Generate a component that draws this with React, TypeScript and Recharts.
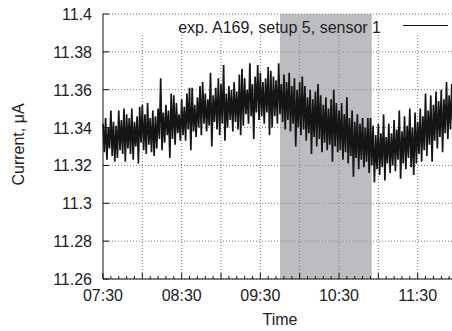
import { LineChart, Line, XAxis, YAxis, CartesianGrid, ReferenceArea, ReferenceLine } from 'recharts';

// Time is minutes after midnight; samples every minute from 07:30,
// alternating the upper and lower edge of the noise band (µA).
const START_MIN = 450;

const upper = [
  11.342, 11.345, 11.340, 11.349, 11.343, 11.341, 11.349, 11.344, 11.350, 11.347,
  11.345, 11.350, 11.343, 11.346, 11.351, 11.352, 11.347, 11.353, 11.345, 11.349,
  11.346, 11.350, 11.366, 11.348, 11.352, 11.349, 11.358, 11.357, 11.353, 11.347,
  11.355, 11.351, 11.358, 11.361, 11.361, 11.352, 11.356, 11.362, 11.364, 11.358,
  11.355, 11.369, 11.357, 11.361, 11.366, 11.363, 11.373, 11.358, 11.362, 11.360,
  11.364, 11.359, 11.368, 11.371, 11.366, 11.360, 11.374, 11.363, 11.367, 11.373,
  11.369, 11.364, 11.366, 11.372, 11.370, 11.367, 11.365, 11.374, 11.363, 11.368,
  11.364, 11.369, 11.362, 11.366, 11.360, 11.364, 11.367, 11.362, 11.356, 11.360,
  11.355, 11.359, 11.363, 11.357, 11.352, 11.356, 11.350, 11.355, 11.360, 11.353,
  11.349, 11.353, 11.347, 11.356, 11.345, 11.349, 11.343, 11.347, 11.342, 11.345,
  11.340, 11.345, 11.345, 11.341, 11.336, 11.342, 11.337, 11.347, 11.335, 11.342,
  11.337, 11.344, 11.339, 11.349, 11.338, 11.346, 11.341, 11.350, 11.340, 11.348,
  11.343, 11.350, 11.346, 11.358, 11.349, 11.357, 11.352, 11.359, 11.354, 11.360,
  11.355, 11.364, 11.357, 11.363,
];

const lower = [
  11.327, 11.323, 11.329, 11.325, 11.322, 11.324, 11.328, 11.326, 11.322, 11.329,
  11.326, 11.323, 11.330, 11.321, 11.332, 11.328, 11.326, 11.331, 11.327, 11.325,
  11.329, 11.334, 11.328, 11.332, 11.336, 11.324, 11.334, 11.331, 11.337, 11.333,
  11.336, 11.333, 11.339, 11.328, 11.338, 11.335, 11.340, 11.336, 11.342, 11.338,
  11.341, 11.330, 11.343, 11.339, 11.336, 11.342, 11.333, 11.340, 11.344, 11.338,
  11.343, 11.339, 11.336, 11.341, 11.347, 11.342, 11.346, 11.334, 11.348, 11.344,
  11.346, 11.342, 11.348, 11.336, 11.340, 11.346, 11.342, 11.347, 11.343, 11.339,
  11.344, 11.338, 11.342, 11.330, 11.340, 11.336, 11.339, 11.333, 11.337, 11.326,
  11.335, 11.330, 11.334, 11.327, 11.332, 11.328, 11.331, 11.322, 11.330, 11.327,
  11.328, 11.323, 11.327, 11.321, 11.325, 11.314, 11.324, 11.318, 11.323, 11.319,
  11.322, 11.316, 11.320, 11.311, 11.318, 11.315, 11.319, 11.312, 11.321, 11.316,
  11.320, 11.317, 11.323, 11.313, 11.321, 11.318, 11.324, 11.319, 11.315, 11.321,
  11.326, 11.322, 11.328, 11.325, 11.331, 11.322, 11.333, 11.329, 11.335, 11.327,
  11.337, 11.334, 11.339, 11.337,
];

const yTicks = [11.26, 11.28, 11.3, 11.32, 11.34, 11.36, 11.38, 11.4];
const gridTimes = [480, 510, 540, 570, 600, 630, 660, 690, 720];
const labelTimes = [450, 510, 570, 630, 690];
const timeLabels = ['07:30', '08:30', '09:30', '10:30', '11:30'];
const shadeFrom = 585; // 09:45
const shadeTo = 655; // 10:55
const keyBandBottom = 11.39; // vertical grid stops under the key row

const data = upper.flatMap((u, i) => [
  { t: START_MIN + 2 * i, v: u },
  { t: START_MIN + 2 * i + 1, v: lower[i] },
]);

// minor ticks every 6 minutes
const minorTicks = Array.from({ length: 46 }, (_, i) => START_MIN + i * 6);

const FONT = '"Liberation Sans", Arial, Helvetica, sans-serif';
const INK = '#151515';

function BottomTick({ x, y, payload }: any) {
  const t = payload.value;
  const major = t % 30 === 0;
  const idx = labelTimes.indexOf(t);
  return (
    <g>
      <line x1={x} x2={x} y1={y} y2={y - (major ? 6 : 3)} stroke={INK} />
      {idx >= 0 && (
        <text x={x} y={y + 22} textAnchor="middle" fontSize={16} fontFamily={FONT} fill="#222">
          {timeLabels[idx]}
        </text>
      )}
    </g>
  );
}

function TopTick({ x, y, payload }: any) {
  const major = payload.value % 30 === 0;
  return <line x1={x} x2={x} y1={y} y2={y + (major ? 6 : 3)} stroke={INK} />;
}

function LeftTick({ x, y, payload }: any) {
  return (
    <g>
      <line x1={x} x2={x + 6} y1={y} y2={y} stroke={INK} />
      <text x={x - 11} y={y + 6} textAnchor="end" fontSize={16} fontFamily={FONT} fill="#222">
        {String(Number(payload.value.toFixed(2)))}
      </text>
    </g>
  );
}

function TimeTitle({ viewBox }: any) {
  return (
    <text x={viewBox.x + viewBox.width / 2} y={viewBox.y + 46} textAnchor="middle" fontSize={16} fontFamily={FONT} fill="#222">
      Time
    </text>
  );
}

function CurrentTitle({ viewBox }: any) {
  const cy = viewBox.y + viewBox.height / 2 - 2;
  return (
    <text x={23.5} y={cy} transform={`rotate(-90 23.5 ${cy})`} textAnchor="middle" fontSize={16} fontFamily={FONT} fill="#222">
      Current, μA
    </text>
  );
}

export default function App() {
  return (
    <div style={{ position: 'absolute', left: 0, top: 0, width: 452, height: 331, overflow: 'hidden', background: '#fff' }}>
      <LineChart width={460} height={331} data={data} margin={{ top: 14, right: 3, bottom: 0, left: 0 }}>
        <CartesianGrid
          xAxisId="main"
          stroke="#777"
          strokeDasharray="1 2"
          vertical={false}
          horizontalValues={yTicks}
        />
        {gridTimes.map((t) => (
          <ReferenceLine
            key={t}
            xAxisId="main"
            segment={[
              { x: t, y: 11.26 },
              { x: t, y: keyBandBottom },
            ]}
            stroke="#777"
            strokeDasharray="1 2"
          />
        ))}
        <ReferenceArea xAxisId="main" x1={shadeFrom} x2={shadeTo} fill="#9a9aa0" fillOpacity={0.65} stroke="none" />
        <XAxis
          xAxisId="main"
          dataKey="t"
          type="number"
          domain={[450, 720]}
          ticks={minorTicks}
          interval={0}
          height={52}
          tickSize={0}
          tickMargin={0}
          tickLine={false}
          tick={<BottomTick />}
          axisLine={{ stroke: INK }}
          label={<TimeTitle />}
        />
        <XAxis
          xAxisId="top"
          orientation="top"
          dataKey="t"
          type="number"
          domain={[450, 720]}
          ticks={minorTicks}
          interval={0}
          height={0}
          tickSize={0}
          tickMargin={0}
          tickLine={false}
          tick={<TopTick />}
          axisLine={{ stroke: INK }}
        />
        <YAxis
          type="number"
          domain={[11.26, 11.4]}
          ticks={yTicks}
          interval={0}
          width={103}
          tickSize={0}
          tickMargin={0}
          tickLine={false}
          tick={<LeftTick />}
          axisLine={{ stroke: INK }}
          label={<CurrentTitle />}
        />
        <Line
          xAxisId="main"
          type="linear"
          dataKey="v"
          stroke={INK}
          strokeWidth={1.7}
          dot={false}
          isAnimationActive={false}
        />
      </LineChart>
      <div
        style={{
          position: 'absolute',
          right: 71,
          top: 19,
          fontFamily: FONT,
          fontSize: 16,
          lineHeight: '18px',
          color: '#222',
          whiteSpace: 'nowrap',
        }}
      >
        exp. A169, setup 5, sensor 1
      </div>
      <div style={{ position: 'absolute', left: 403, top: 25, width: 45, height: 1, background: INK }} />
    </div>
  );
}
